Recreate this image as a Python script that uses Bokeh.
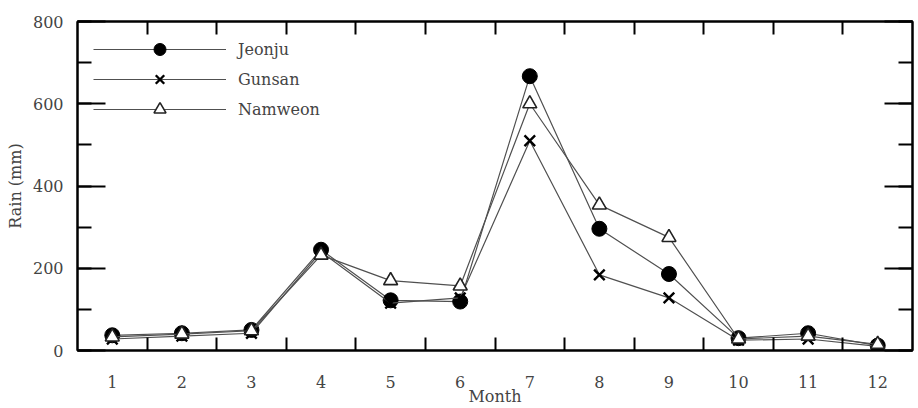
from bokeh.plotting import figure
from bokeh.models import FixedTicker, SingleIntervalTicker, LinearAxis, Range1d, Legend, LegendItem
from bokeh.embed import file_html
from bokeh.resources import INLINE

months = [1, 2, 3, 4, 5, 6, 7, 8, 9, 10, 11, 12]
half_ticks = [1.5, 2.5, 3.5, 4.5, 5.5, 6.5, 7.5, 8.5, 9.5, 10.5, 11.5]
jeonju = [37, 42, 50, 245, 122, 119, 667, 296, 186, 30, 42, 12]
gunsan = [28, 35, 42, 240, 115, 128, 510, 184, 128, 25, 28, 10]
namweon = [33, 40, 48, 232, 170, 157, 600, 354, 275, 28, 35, 15]

FONT = "DejaVu Serif"
TXT = "#444444"
FS = "16px"

p = figure(width=918, height=408, output_backend="svg", toolbar_location=None,
           x_range=Range1d(0.5, 12.5), y_range=Range1d(0, 800),
           min_border_left=77, min_border_right=6, min_border_top=21, min_border_bottom=57)
p.xgrid.visible = False
p.ygrid.visible = False
p.outline_line_color = "black"
p.outline_line_width = 2

def style_x(ax, labels=True):
    ax.ticker = FixedTicker(ticks=months, minor_ticks=half_ticks)
    ax.major_tick_line_color = None
    ax.minor_tick_in = 13
    ax.minor_tick_out = 0
    ax.minor_tick_line_width = 2
    ax.minor_tick_line_color = "black"
    ax.axis_line_width = 2
    ax.axis_line_color = "black"
    ax.major_label_text_font = FONT
    ax.major_label_text_font_size = FS
    ax.major_label_text_color = TXT if labels else None
    ax.major_label_standoff = 19

def style_y(ax, labels=True):
    ax.ticker = SingleIntervalTicker(interval=200, num_minor_ticks=2)
    ax.major_tick_in = 28
    ax.major_tick_out = 0
    ax.minor_tick_in = 14
    ax.minor_tick_out = 0
    ax.major_tick_line_width = 2
    ax.minor_tick_line_width = 2
    ax.major_tick_line_color = "black"
    ax.minor_tick_line_color = "black"
    ax.axis_line_width = 2
    ax.axis_line_color = "black"
    ax.major_label_text_font = FONT
    ax.major_label_text_font_size = FS
    ax.major_label_text_color = TXT if labels else None
    ax.major_label_standoff = 14

style_x(p.xaxis[0])
style_y(p.yaxis[0])
p.xaxis[0].axis_label = "Month"
p.xaxis[0].axis_label_text_font = FONT
p.xaxis[0].axis_label_text_font_style = "normal"
p.xaxis[0].axis_label_text_font_size = FS
p.xaxis[0].axis_label_text_color = TXT
p.xaxis[0].axis_label_standoff = -4
p.yaxis[0].axis_label = "Rain (mm)"
p.yaxis[0].axis_label_text_font = FONT
p.yaxis[0].axis_label_text_font_style = "normal"
p.yaxis[0].axis_label_text_font_size = FS
p.yaxis[0].axis_label_text_color = TXT
p.yaxis[0].axis_label_standoff = 5

top = LinearAxis()
style_x(top, labels=False)
top.major_label_text_font_size = "0px"
top.major_label_standoff = 0
p.add_layout(top, "above")
right = LinearAxis()
style_y(right, labels=False)
right.major_label_text_font_size = "0px"
right.major_label_standoff = 0
p.add_layout(right, "right")

LC = "#505050"
l1 = p.line(months, jeonju, line_color=LC, line_width=1.2)
s1 = p.scatter(months, jeonju, marker="circle", size=15, fill_color="black", line_color="black")
l2 = p.line(months, gunsan, line_color=LC, line_width=1.2)
s2 = p.scatter(months, gunsan, marker="x", size=15, line_color="black", line_width=2.4)
l3 = p.line(months, namweon, line_color=LC, line_width=1.2)
s3 = p.scatter(months, namweon, marker="triangle", size=14, fill_color="white", line_color="#222", line_width=1.6)

legend = Legend(items=[
    LegendItem(label="Jeonju", renderers=[l1, s1]),
    LegendItem(label="Gunsan", renderers=[l2, s2]),
    LegendItem(label="Namweon", renderers=[l3, s3]),
], location=(16, 226))
legend.glyph_width = 133
legend.glyph_height = 30
legend.spacing = 0
legend.margin = 0
legend.padding = 0
legend.label_standoff = 12
legend.label_text_font = FONT
legend.label_text_font_size = FS
legend.label_text_color = TXT
legend.border_line_color = None
legend.background_fill_alpha = 0
p.add_layout(legend, "center")

open("out.html", "w").write(file_html(p, INLINE))
